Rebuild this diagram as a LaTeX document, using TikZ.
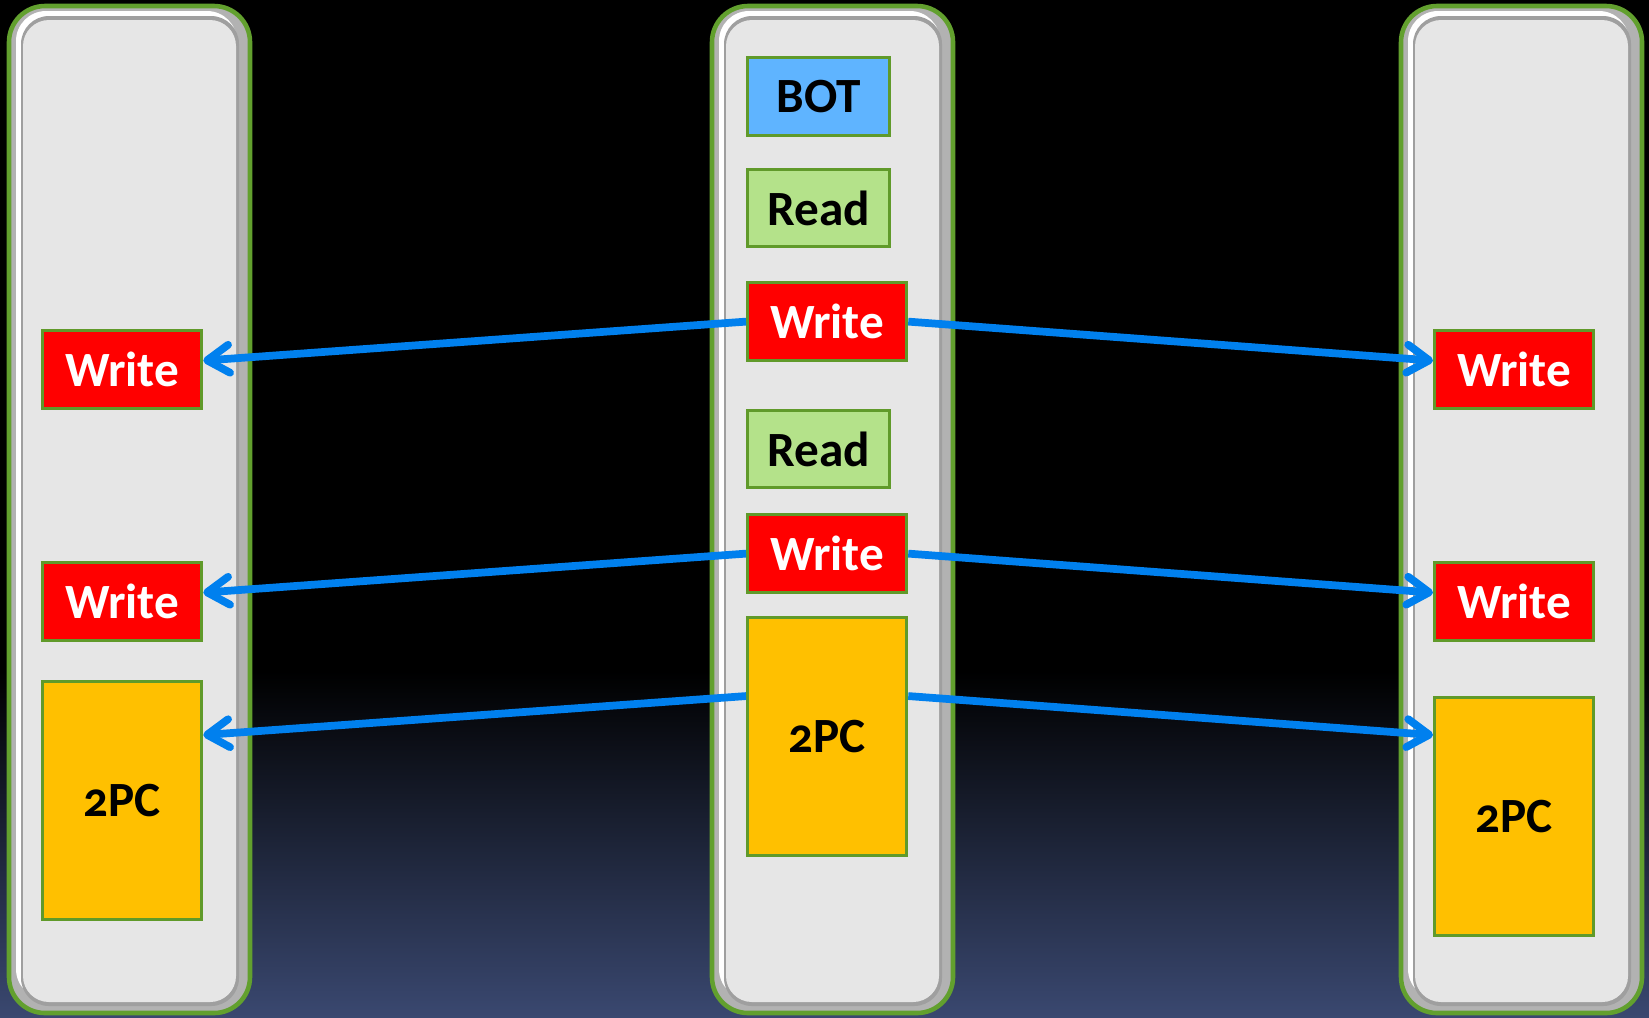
\documentclass[tikz,border=0pt]{standalone}
\usepackage{fontspec}
\setmainfont{Carlito}[Numbers=OldStyle]
\usepackage{tikz}
\usetikzlibrary{arrows.meta}

\definecolor{bgbot}{RGB}{58,72,112}
\definecolor{rimgreen}{RGB}{98,160,46}
\definecolor{boxgreen}{RGB}{96,154,42}
\definecolor{facegray}{RGB}{230,230,230}
\definecolor{botblue}{RGB}{95,180,255}
\definecolor{readgreen}{RGB}{180,226,138}
\definecolor{wred}{RGB}{255,0,0}
\definecolor{pcyellow}{RGB}{255,192,0}
\definecolor{arrblue}{RGB}{0,128,238}

\pgfdeclareverticalshading{bgshade}{100bp}{color(0bp)=(bgbot); color(25bp)=(bgbot); color(42bp)=(black); color(100bp)=(black)}

\tikzset{
  box/.style={draw=boxgreen, line width=0.9pt, inner sep=0pt, anchor=north west,
    font=\bfseries\fontsize{14}{16}\selectfont},
  wbox/.style={box, fill=wred, text=white, minimum width=1.59cm, minimum height=0.78cm},
  rbox/.style={box, fill=readgreen, minimum width=1.42cm, minimum height=0.77cm},
  botbox/.style={box, fill=botblue, minimum width=1.42cm, minimum height=0.78cm},
  pcbox/.style={box, fill=pcyellow, minimum width=1.59cm, minimum height=2.38cm},
  msg/.style={draw=arrblue, line width=2.2pt, -{Straight Barb[length=0.22cm,width=0.28cm,round]}}
}

\begin{document}
\begin{tikzpicture}[x=0.01cm, y=-0.01cm]
    \useasboundingbox (0,0) rectangle (1649,1017);
    \shade[shading=bgshade] (0,0) rectangle (1649,1017);

    % the three sites
    \foreach \cx in {9,712,1401} {
        \draw[rimgreen, line width=1.3pt, fill=gray!60, rounded corners=0.36cm] (\cx,6) rectangle ++(241,1007);
        \fill[white, rounded corners=0.3cm] (\cx+7,11) rectangle ++(221,988);
        \fill[gray!75, rounded corners=0.28cm] (\cx+12,16) rectangle ++(218,990);
        \fill[facegray, rounded corners=0.26cm] (\cx+14,20) rectangle ++(213,982);
    }

    % coordinator
    \node[botbox] (bot) at (746,56) {BOT};
    \node[rbox] (rd1) at (746,168) {Read};
    \node[wbox] (mw1) at (746,281) {Write};
    \node[rbox] (rd2) at (746,409) {Read};
    \node[wbox] (mw2) at (746,513) {Write};
    \node[pcbox] (mpc) at (746,616) {2PC};

    % participants
    \node[wbox] (lw1) at (41,329) {Write};
    \node[wbox] (lw2) at (41,561) {Write};
    \node[pcbox] (lpc) at (41,680) {2PC};
    \node[wbox] (rw1) at (1433,329) {Write};
    \node[wbox] (rw2) at (1433,561) {Write};
    \node[pcbox] (rpc) at (1433,696) {2PC};

    \draw[msg] (mw1.west) -- ([yshift=0.09cm]lw1.east);
    \draw[msg] (mw1.east) -- ([yshift=0.09cm]rw1.west);
    \draw[msg] (mw2.west) -- ([yshift=0.09cm]lw2.east);
    \draw[msg] (mw2.east) -- ([yshift=0.09cm]rw2.west);
    \draw[msg] ([yshift=-0.80cm]mpc.north west) -- ([yshift=-0.55cm]lpc.north east);
    \draw[msg] ([yshift=-0.80cm]mpc.north east) -- ([yshift=-0.39cm]rpc.north west);
\end{tikzpicture}
\end{document}
